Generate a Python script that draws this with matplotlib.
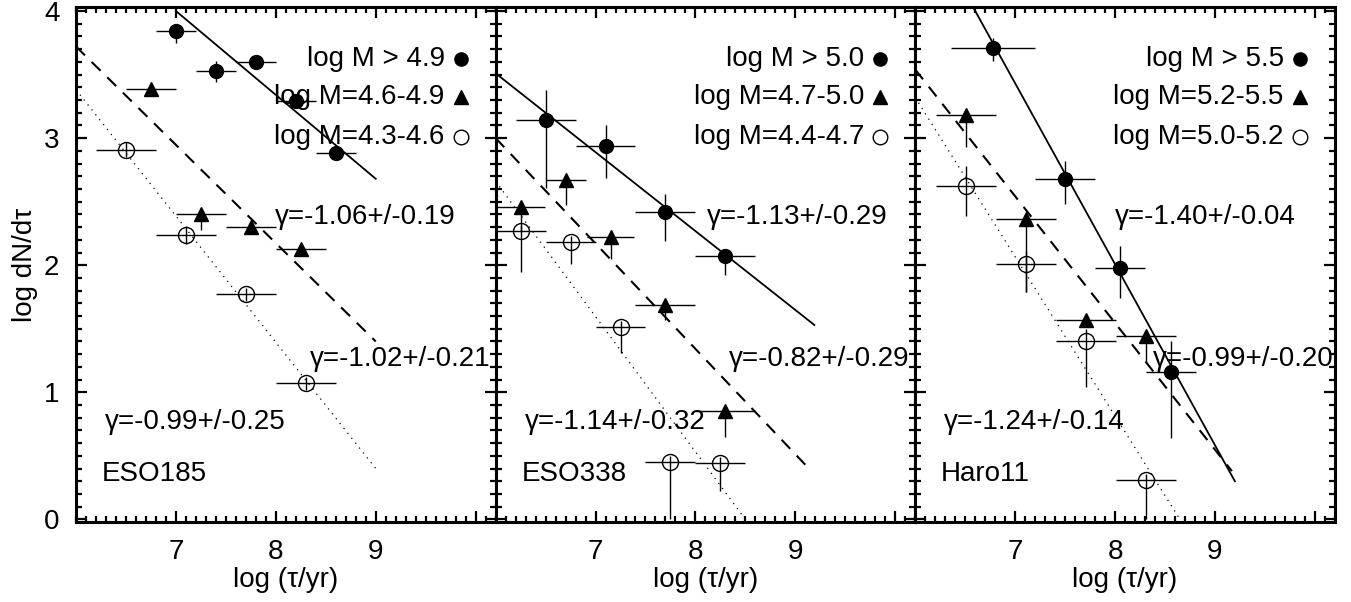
import matplotlib.pyplot as plt
from matplotlib.ticker import MultipleLocator

plt.rcParams['font.family'] = ['Liberation Sans', 'DejaVu Sans']
plt.rcParams['font.size'] = 20

galaxies = ['ESO185', 'ESO338', 'Haro11']

# high mass bin (filled circles)
hi_x = [[7.0, 7.4, 7.8, 8.2, 8.6],
        [6.5, 7.1, 7.7, 8.3],
        [6.78, 7.5, 8.05, 8.56]]
hi_y = [[3.84, 3.53, 3.60, 3.29, 2.88],
        [3.14, 2.94, 2.42, 2.07],
        [3.71, 2.68, 1.98, 1.16]]
hi_xerr = [[0.2, 0.2, 0.2, 0.2, 0.2],
           [0.3, 0.3, 0.3, 0.3],
           [0.42, 0.3, 0.25, 0.25]]
hi_yerr_lo = [[0.09, 0.09, 0.03, 0.03, 0.03],
              [0.53, 0.25, 0.23, 0.15],
              [0.10, 0.20, 0.24, 0.52]]
hi_yerr_hi = [[0.06, 0.08, 0.03, 0.03, 0.03],
              [0.24, 0.165, 0.14, 0.05],
              [0.08, 0.14, 0.17, 0.24]]

# middle mass bin (triangles)
mid_x = [[6.75, 7.25, 7.75, 8.25],
         [6.25, 6.7, 7.15, 7.7, 8.3],
         [6.51, 7.11, 7.71, 8.31]]
mid_y = [[3.39, 2.40, 2.30, 2.13],
         [2.46, 2.67, 2.22, 1.69, 0.85],
         [3.18, 2.36, 1.57, 1.44]]
mid_xerr = [[0.25, 0.25, 0.25, 0.25],
            [0.24, 0.2, 0.24, 0.3, 0.3],
            [0.3, 0.3, 0.3, 0.3]]
mid_yerr_lo = [[0.05, 0.12, 0.055, 0.03],
               [0.2, 0.2, 0.17, 0.12, 0.2],
               [0.25, 0.57, 0.05, 0.2]]
mid_yerr_hi = [[0.03, 0.03, 0.03, 0.03],
               [0.03, 0.03, 0.03, 0.03, 0.03],
               [0.03, 0.03, 0.03, 0.03]]

# low mass bin (open circles)
lo_x = [[6.5, 7.1, 7.7, 8.3],
        [6.25, 6.75, 7.25, 7.75, 8.25],
        [6.51, 7.11, 7.71, 8.31]]
lo_y = [[2.91, 2.24, 1.77, 1.07],
        [2.27, 2.18, 1.51, 0.45, 0.44],
        [2.62, 2.01, 1.40, 0.31]]
lo_xerr = [[0.3, 0.3, 0.3, 0.3],
           [0.25, 0.25, 0.25, 0.25, 0.25],
           [0.3, 0.3, 0.3, 0.3]]
lo_yerr_lo = [[0.06, 0.07, 0.05, 0.05],
              [0.32, 0.17, 0.2, 0.45, 0.22],
              [0.23, 0.22, 0.36, 0.31]]
lo_yerr_hi = [[0.06, 0.07, 0.05, 0.05],
              [0.05, 0.05, 0.05, 0.05, 0.05],
              [0.16, 0.1, 0.1, 0.05]]

# fitted power laws: (x0, y0, x1, y1)
fit_hi = [(7.0, 4.0, 9.0, 2.68), (6.0, 3.51, 9.19, 1.53), (6.58, 4.03, 9.2, 0.30)]
fit_mid = [(6.0, 3.72, 9.0, 1.40), (6.0, 3.0, 9.16, 0.38), (6.0, 3.54, 9.17, 0.38)]
fit_lo = [(6.0, 3.38, 9.0, 0.40), (6.0, 2.66, 8.5, 0.0), (6.0, 3.32, 8.65, 0.0)]

bin_labels = [['log M > 4.9', 'log M=4.6-4.9', 'log M=4.3-4.6'],
              ['log M > 5.0', 'log M=4.7-5.0', 'log M=4.4-4.7'],
              ['log M > 5.5', 'log M=5.2-5.5', 'log M=5.0-5.2']]
gamma_hi = ['γ=-1.06+/-0.19', 'γ=-1.13+/-0.29', 'γ=-1.40+/-0.04']
gamma_mid = ['γ=-1.02+/-0.21', 'γ=-0.82+/-0.29', 'γ=-0.99+/-0.20']
gamma_lo = ['γ=-0.99+/-0.25', 'γ=-1.14+/-0.32', 'γ=-1.24+/-0.14']
gamma_hi_x = [7.99, 8.11, 8.0]
gamma_mid_x = [8.34, 8.34, 8.38]

fig, axes = plt.subplots(1, 3, sharey=True, figsize=(13.51, 6.02), dpi=100)
fig.subplots_adjust(left=0.0563, right=0.988, bottom=0.133, top=0.988, wspace=0)

ebkw = dict(ls='none', ecolor='black', elinewidth=1.0, capsize=0, color='black')
for i, ax in enumerate(axes):
    ax.errorbar(hi_x[i], hi_y[i], xerr=hi_xerr[i], yerr=[hi_yerr_lo[i], hi_yerr_hi[i]],
                marker='o', ms=10, mfc='black', mec='black', **ebkw)
    ax.errorbar(mid_x[i], mid_y[i], xerr=mid_xerr[i], yerr=[mid_yerr_lo[i], mid_yerr_hi[i]],
                marker='^', ms=10, mfc='black', mec='black', **ebkw)
    ax.errorbar(lo_x[i], lo_y[i], xerr=lo_xerr[i], yerr=[lo_yerr_lo[i], lo_yerr_hi[i]],
                marker='o', ms=11.5, mfc='none', mec='black', mew=1.0, **ebkw)

    x0, y0, x1, y1 = fit_hi[i]
    ax.plot([x0, x1], [y0, y1], color='black', lw=1.3)
    x0, y0, x1, y1 = fit_mid[i]
    ax.plot([x0, x1], [y0, y1], color='black', lw=1.5, ls=(0, (6, 4.5)))
    x0, y0, x1, y1 = fit_lo[i]
    ax.plot([x0, x1], [y0, y1], color='black', lw=0.9, ls=(0, (1, 4)))

    # mass bin key
    for k, (yk, mk, fill) in enumerate([(3.62, 'o', 'black'), (3.32, '^', 'black'),
                                       (3.01, 'o', 'none')]):
        ax.text(9.69, yk, bin_labels[i][k], ha='right', va='center')
        ax.plot([9.85], [yk], marker=mk, ms=9.5 if fill != 'none' else 10.5,
                mfc=fill, mec='black', mew=1.0, ls='none')

    ax.text(gamma_hi_x[i], 2.38, gamma_hi[i], ha='left', va='center')
    ax.text(gamma_mid_x[i], 1.26, gamma_mid[i], ha='left', va='center')
    ax.text(6.29, 0.77, gamma_lo[i], ha='left', va='center')
    ax.text(6.26, 0.36, galaxies[i], ha='left', va='center')

    ax.set_xlim(6.0, 10.2)
    ax.set_ylim(-0.02, 4.03)
    ax.set_xticks([7, 8, 9, 10], ['7', '8', '9', ''])
    ax.set_yticks([0, 1, 2, 3, 4])
    ax.xaxis.set_minor_locator(MultipleLocator(0.1))
    ax.yaxis.set_minor_locator(MultipleLocator(0.1))
    ax.tick_params(which='both', direction='in', top=True, right=True, width=1.6)
    ax.tick_params(which='major', length=8, pad=12)
    ax.tick_params(which='minor', length=4)
    for s in ax.spines.values():
        s.set_linewidth(2.2)
    ax.set_xlabel('log (τ/yr)', labelpad=2)

axes[0].set_ylabel('log dN/dτ', labelpad=4)

plt.savefig('out.png', dpi=100)
